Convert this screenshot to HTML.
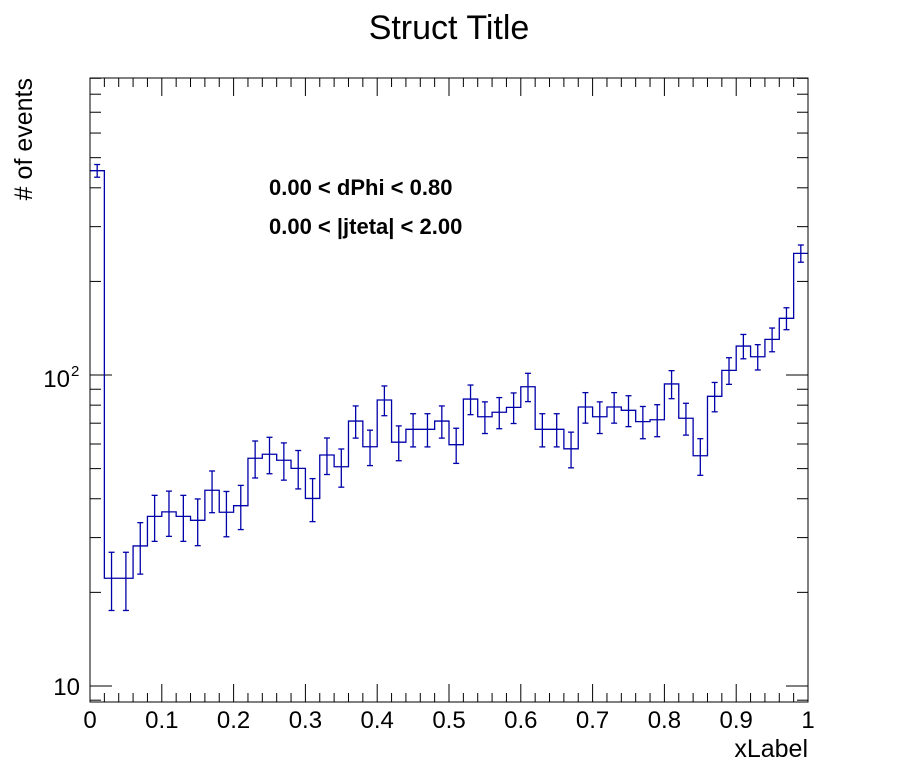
<!DOCTYPE html>
<html><head><meta charset="utf-8"><style>
body{margin:0;background:#fff;}
svg{display:block;font-family:"Liberation Sans",sans-serif;}
</style></head><body>
<svg id="chart" width="898" height="781" viewBox="0 0 898 781" xmlns="http://www.w3.org/2000/svg">
<rect width="898" height="781" fill="#fff"/>
<text x="449" y="39" font-size="34" text-anchor="middle">Struct Title</text>
<text transform="translate(32,78) rotate(-90)" font-size="25" text-anchor="end">&#35; of events</text>
<text x="808" y="757" font-size="25" text-anchor="end">xLabel</text>
<text x="269" y="195" font-size="22" font-weight="bold">0.00 &lt; dPhi &lt; 0.80</text>
<text x="269" y="234" font-size="22" font-weight="bold">0.00 &lt; |jteta| &lt; 2.00</text>
<g id="axes"></g>
<g id="marks"></g>
<rect x="90" y="78" width="718" height="624" fill="none" stroke="#000" stroke-width="1"/>
</svg>
<script>
const binLow = 0, binHigh = 1;
const counts = [454,22.2,22.2,28.2,35.1,36.3,35.1,34.1,42.6,36.2,38.0,54.0,55.6,53.2,50.1,40.1,55.3,50.7,71.1,58.8,83.1,60.8,66.9,66.9,71.1,59.7,83.7,73.4,75.9,78.7,91.7,66.9,66.9,57.9,78.9,73.4,78.9,77.0,70.8,71.8,93.6,72.6,55.0,85.4,103.5,123.9,114.5,130.2,152.2,246.2];
const xTicks = [0,0.1,0.2,0.3,0.4,0.5,0.6,0.7,0.8,0.9,1];
const xTickLabels = ["0","0.1","0.2","0.3","0.4","0.5","0.6","0.7","0.8","0.9","1"];
const yMin = 8.88, yMax = 902;

const X0=90,X1=808,Y0=702,Y1=78;
function sx(v){return X0+(v-binLow)/(binHigh-binLow)*(X1-X0);}
function sy(v){return Y0-(Math.log10(v)-Math.log10(yMin))/(Math.log10(yMax)-Math.log10(yMin))*(Y0-Y1);}
const NS="http://www.w3.org/2000/svg";
function mk(tag,attrs,parent){const e=document.createElementNS(NS,tag);for(const k in attrs)e.setAttribute(k,attrs[k]);parent.appendChild(e);return e;}
const axes=document.getElementById('axes'), marks=document.getElementById('marks');

for(let i=0;i<=50;i++){
  const v=i/50, x=sx(v), major=(i%5===0), L=major?18:9;
  const t1=mk('line',{x1:x,x2:x,y1:Y0,y2:Y0-L,stroke:'#000'},axes);
  
  
  const t2=mk('line',{x1:x,x2:x,y1:Y1,y2:Y1+L,stroke:'#000'},axes);
  
  
}
xTicks.forEach((v,i)=>{
  const t=mk('text',{x:sx(v),y:728,'font-size':24,'text-anchor':'middle'},axes);
  t.textContent=xTickLabels[i];
  
  
});
for(let d=1;d<=100;d*=10){
  for(let m=1;m<=9;m++){
    const v=m*d; if(v<yMin||v>yMax) continue;
    const y=sy(v), L=(m===1)?22:11;
    const a=mk('line',{x1:X0,x2:X0+L,y1:y,y2:y,stroke:'#000'},axes);
    
    
    const b=mk('line',{x1:X1,x2:X1-L,y1:y,y2:y,stroke:'#000'},axes);
    
    
  }
}
const l10=mk('text',{x:80,y:sy(10)+9,'font-size':24,'text-anchor':'end'},axes);
l10.textContent='10';


const l100=mk('text',{x:70,y:sy(100)+12,'font-size':24,'text-anchor':'end'},axes);
l100.textContent='10';


const sup=mk('text',{x:71,y:sy(100)+1,'font-size':15},axes);
sup.textContent='2';



const n=counts.length, w=(binHigh-binLow)/n;
let d='';
counts.forEach((c,i)=>{
  const xa=sx(binLow+i*w), xb=sx(binLow+(i+1)*w), y=sy(c);
  d += (i===0?'M':'L')+xa+','+y+' L'+xb+','+y+' ';
});
const path=mk('path',{d:d,fill:'none',stroke:'#0000aa','stroke-width':1.3},marks);


counts.forEach((c,i)=>{
  const xm=sx(binLow+(i+0.5)*w), e=Math.sqrt(c);
  const ya=sy(c+e), yb=sy(Math.max(c-e,yMin));
  const g=mk('g',{stroke:'#0000aa','stroke-width':1.3},marks);
  
  
  mk('line',{x1:xm,x2:xm,y1:ya,y2:yb},g);
  mk('line',{x1:xm-3,x2:xm+3,y1:ya,y2:ya},g);
  mk('line',{x1:xm-3,x2:xm+3,y1:yb,y2:yb},g);
});
</script>
</body></html>
